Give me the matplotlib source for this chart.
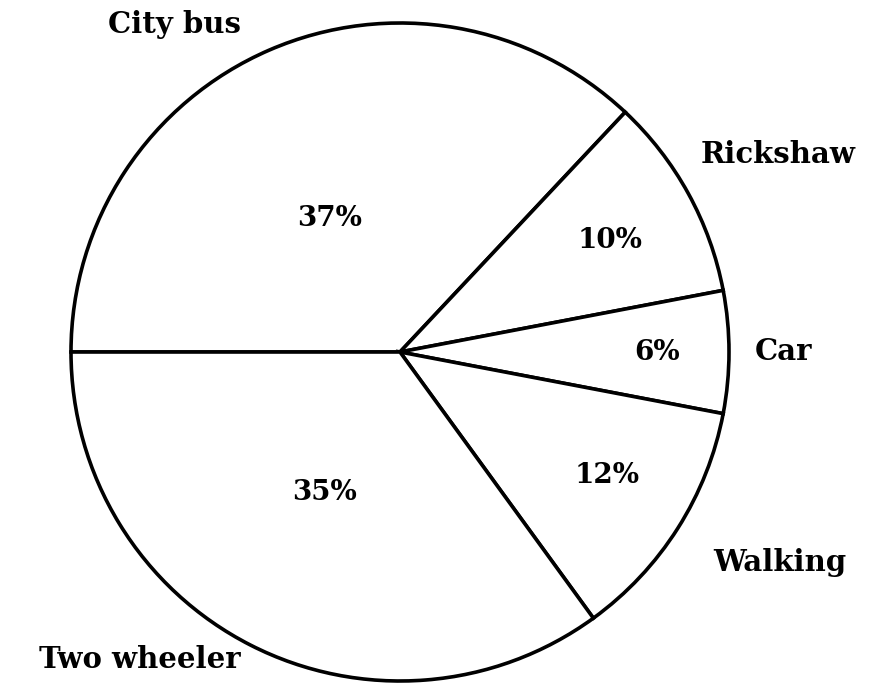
import matplotlib.pyplot as plt

plt.rcParams["font.family"] = "DejaVu Serif"
plt.rcParams["font.weight"] = "bold"

# data
modes = ['City bus', 'Rickshaw', 'Car', 'Walking', 'Two wheeler']
shares = [37, 10, 6, 12, 35]

# label placement (axes units, pie radius = 1)
label_xy = [(-0.684, 0.994), (1.149, 0.599), (1.167, 0.0), (1.155, -0.641), (-0.79, -0.936)]
pct_xy = [(-0.213, 0.407), (0.638, 0.340), (0.781, 0.0), (0.629, -0.374), (-0.228, -0.426)]

fig = plt.figure(figsize=(8.79, 6.88), dpi=100)
ax = fig.add_axes([71 / 879, 7 / 688, 658 / 879, 658 / 688])

wedges, texts, autotexts = ax.pie(
    shares, labels=modes, startangle=180, counterclock=False,
    colors=['white'] * len(shares),
    wedgeprops=dict(edgecolor='black', linewidth=2.6),
    autopct='%d%%', radius=1,
    textprops=dict(fontsize=21, color='black', fontweight='bold'))

for t, xy in zip(texts, label_xy):
    t.set_position(xy)
    t.set_ha('center')
    t.set_va('center')
for t, xy in zip(autotexts, pct_xy):
    t.set_position(xy)
    t.set_ha('center')
    t.set_va('center')
    t.set_fontsize(20)

ax.set_xlim(-1, 1)
ax.set_ylim(-1, 1)
ax.set_aspect('auto')

plt.savefig('out.png', dpi=100)
